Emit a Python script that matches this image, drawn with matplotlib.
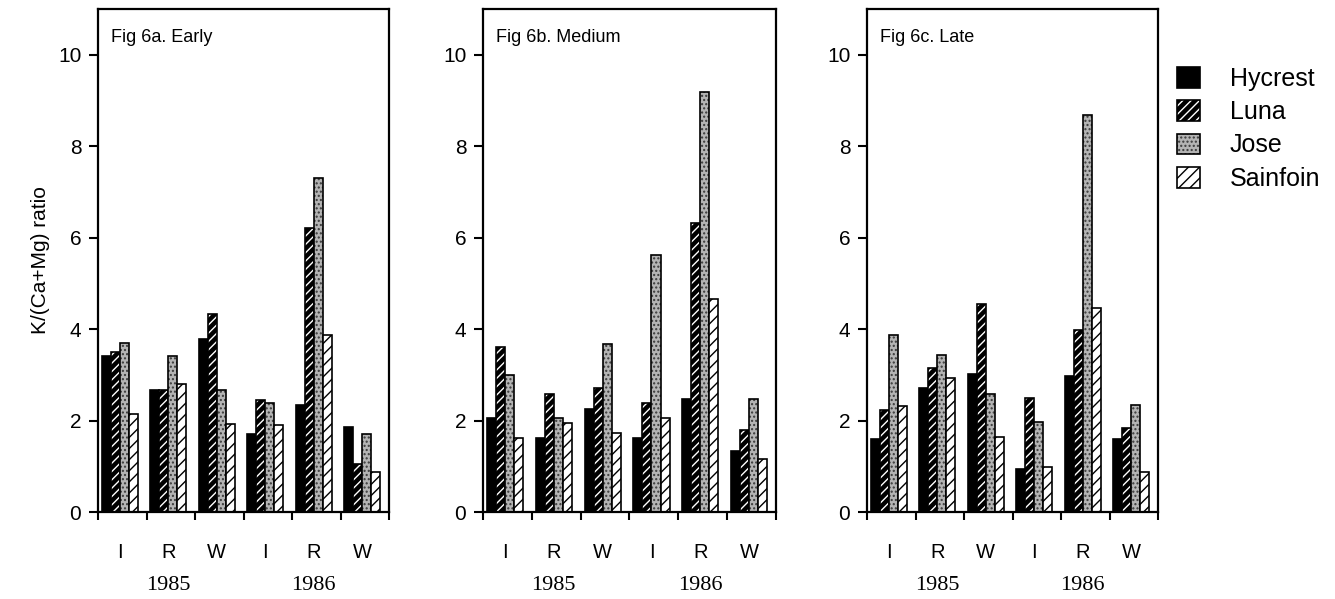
import numpy as np
import matplotlib
matplotlib.use('Agg')
import matplotlib.pyplot as plt
import matplotlib.transforms as mtransforms
from matplotlib.patches import Patch
from matplotlib.legend_handler import HandlerTuple

plt.rcParams['font.family'] = ['Liberation Sans', 'DejaVu Sans']
plt.rcParams['hatch.linewidth'] = 1.0

# harvest / year groups
groups = ['I', 'R', 'W', 'I', 'R', 'W']
years = ['1985', '1986']
cultivars = ['Hycrest', 'Luna', 'Jose', 'Sainfoin']
titles = ['Fig 6a. Early', 'Fig 6b. Medium', 'Fig 6c. Late']

# K/(Ca+Mg) ratio, rows = cultivars, columns = groups
early = [[3.41, 2.66, 3.78, 1.70, 2.34, 1.86],
         [3.50, 2.66, 4.33, 2.45, 6.22, 1.06],
         [3.70, 3.41, 2.66, 2.39, 7.30, 1.70],
         [2.15, 2.80, 1.93, 1.90, 3.87, 0.88]]
medium = [[2.05, 1.62, 2.25, 1.61, 2.48, 1.34],
          [3.60, 2.58, 2.72, 2.39, 6.31, 1.80],
          [3.00, 2.05, 3.67, 5.62, 9.18, 2.48],
          [1.62, 1.94, 1.72, 2.05, 4.65, 1.15]]
late = [[1.59, 2.72, 3.02, 0.93, 2.97, 1.60],
        [2.22, 3.15, 4.55, 2.50, 3.98, 1.83],
        [3.87, 3.43, 2.59, 1.96, 8.68, 2.33],
        [2.32, 2.92, 1.63, 0.98, 4.47, 0.87]]
panels = [early, medium, late]

# bar styles: (face, hatch colour, hatch)
styles = [('black', 'black', None),
          ('black', 'white', '////'),
          ('#b4b4b4', '#3a3a3a', '....'),
          ('white', 'black', '///')]

W, H = 1335, 599
fig = plt.figure(figsize=(W / 100, H / 100), dpi=100)
fig.patch.set_facecolor('white')

ax_px = [(98, 389), (483, 776), (867, 1158)]
top_px, bot_px = 9, 512

x = np.arange(len(groups))
bw = 0.185
start = -0.42
centre = start + 2 * bw

for p, (l, r) in enumerate(ax_px):
    ax = fig.add_axes([l / W, 1 - bot_px / H, (r - l) / W, (bot_px - top_px) / H])
    data = panels[p]
    for k, vals in enumerate(data):
        fc, hc, hatch = styles[k]
        xs = x + start + k * bw
        ax.bar(xs, vals, bw, align='edge', color=fc, edgecolor=hc,
               hatch=hatch, linewidth=0)
        ax.bar(xs, vals, bw, align='edge', fill=False, edgecolor='black',
               linewidth=1.2)
    ax.set_xlim(-0.5, len(groups) - 0.5)
    ax.set_ylim(0, 11)
    ax.set_yticks(range(0, 11, 2))
    ax.set_xticks(np.arange(len(groups) + 1) - 0.5)
    ax.set_xticklabels([])
    ax.set_xticks(x + centre, groups, minor=True)
    ax.tick_params(axis='x', which='major', direction='out', length=6, width=1.5)
    ax.tick_params(axis='x', which='minor', length=0, pad=22.5, labelsize=14.5)
    ax.tick_params(axis='y', direction='out', length=6.5, width=1.5, pad=5.5,
                   labelsize=15)
    for s in ax.spines.values():
        s.set_linewidth(1.6)
    ax.text(0.045, 0.944, titles[p], transform=ax.transAxes, fontsize=13,
            ha='left', va='center')
    trans = mtransforms.blended_transform_factory(ax.transData, ax.transAxes)
    for j, yr in enumerate(years):
        ax.text(1 + 3 * j + centre, -0.147, yr, transform=trans,
                ha='center', va='center', fontsize=16,
                family=['Liberation Serif', 'DejaVu Serif'])
    if p == 0:
        ax.set_ylabel('K/(Ca+Mg) ratio', fontsize=15, labelpad=6)

handles = []
for fc, hc, hatch in styles:
    fill = Patch(facecolor=fc, edgecolor=hc, hatch=hatch, linewidth=0)
    edge = Patch(fill=False, edgecolor='black', linewidth=1.2)
    handles.append((fill, edge))
fig.legend(handles, cultivars, loc='upper left',
           bbox_to_anchor=(1177 / W, 1 - 67 / H), frameon=False, fontsize=18,
           handlelength=0.9, handleheight=0.9, handletextpad=1.2,
           labelspacing=0.37, borderpad=0, borderaxespad=0,
           handler_map={tuple: HandlerTuple(ndivide=1, pad=0)})

fig.savefig('out.png', dpi=100)
